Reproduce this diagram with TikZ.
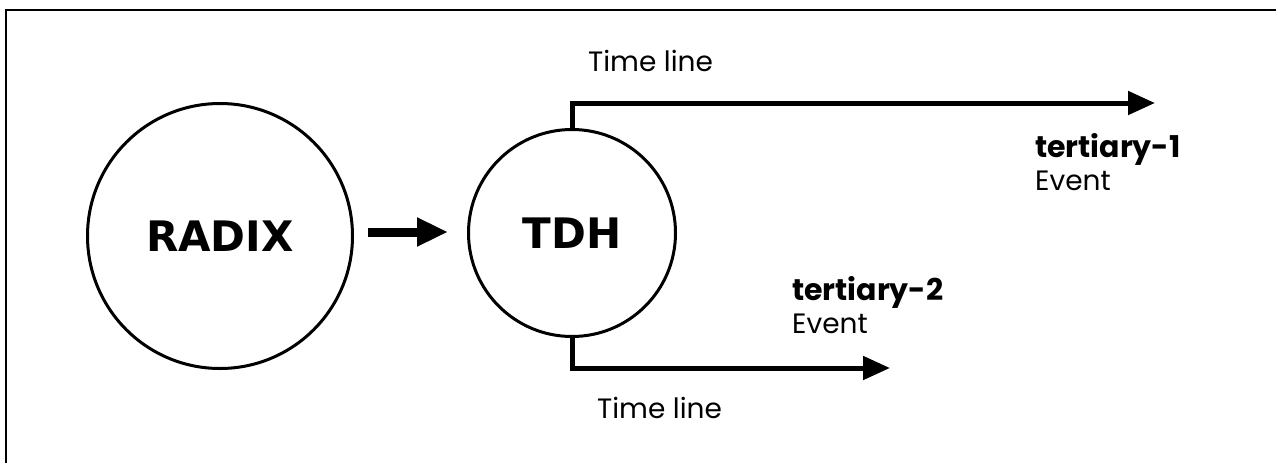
\documentclass[tikz,border=0pt]{standalone}
\usepackage{fontspec}
\setmainfont{Poppins}
\newfontfamily\circfont{DejaVu Sans}[BoldFont={DejaVu Sans Bold}]
\usetikzlibrary{arrows.meta}
\begin{document}
\begin{tikzpicture}[x=1pt,y=-1pt,
  circ/.style={circle,draw,line width=3pt,inner sep=0pt},
  circtext/.style={font=\circfont\bfseries\fontsize{42}{42}\selectfont},
  tl/.style={line width=5pt,line join=miter,-{Triangle[length=27pt,width=23pt]}},
  lbl/.style={anchor=base west,inner sep=0pt,font=\fontsize{28}{28}\selectfont},
  evt/.style={anchor=base west,inner sep=0pt,font=\bfseries\fontsize{30}{30}\selectfont}]
\useasboundingbox (0,0) rectangle (1276,463);
\draw[line width=2.5pt] (6,463) -- (6,10) -- (1276,10);
\node[circ,minimum size=265pt] (radix) at (220,236) {};
\node[circtext] (radixt) at (radix.center) {RADIX};
\node[circ,minimum size=207pt] (tdh) at (572,233) {};
\node[circtext] (tdht) at (tdh.center) {TDH};
\path (radix.east) ++(14,-4) coordinate (a0);
\path (tdh.west) ++(-19,0) coordinate (a1);
\draw[line width=9pt,-{Triangle[length=31pt,width=27pt]}] (a0) -- (a0 -| a1);
\coordinate (t1end) at (1155,103);
\coordinate (t2end) at (890,368);
\draw[tl] (tdh.north) |- (t1end);
\draw[tl] (tdh.south) |- (t2end);
\node[lbl] (tl1) at (588,71) {Time line};
\node[lbl] (tl2) at (597,418) {Time line};
\node[evt] (e1) at (1035,157) {tertiary-1};
\node[lbl] (e1b) at (1035,190) {Event};
\node[evt] (e2) at (792,300) {tertiary-2};
\node[lbl] (e2b) at (792,333) {Event};
\end{tikzpicture}
\end{document}
